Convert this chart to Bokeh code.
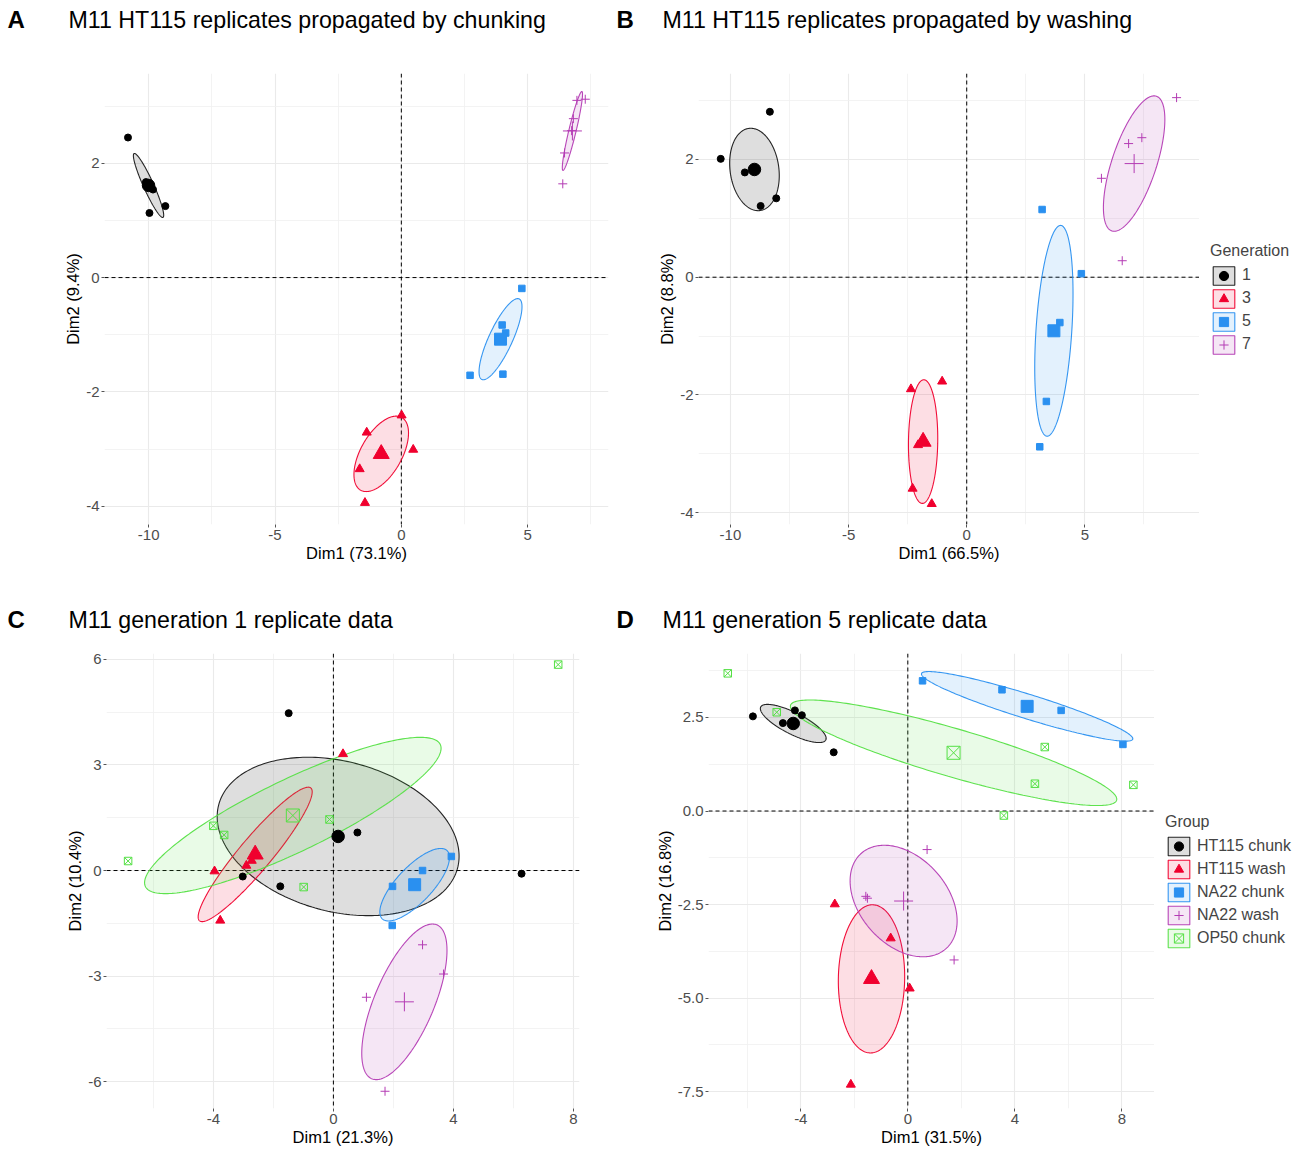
import numpy as np
from bokeh.plotting import figure
from bokeh.models import FixedTicker, Span, Label, Legend, LegendItem, PrintfTickFormatter, Range1d
from bokeh.layouts import row, column
from bokeh.embed import file_html
from bokeh.resources import INLINE

# ---------------- data: panel A (Generation, chunking) ----------------
A_GROUPS = ["1", "3", "5", "7"]
A1_X = [-10.82, -9.97, -9.34, -10.11, -9.97, -9.83]
A1_Y = [2.45, 1.13, 1.25, 1.67, 1.63, 1.54]
A3_X = [0.01, -1.37, 0.47, -1.65, -1.44]
A3_Y = [-2.41, -2.71, -3.01, -3.35, -3.94]
A5_X = [4.77, 3.99, 4.13, 2.72, 4.02]
A5_Y = [-0.19, -0.83, -0.97, -1.71, -1.69]
A7_X = [7.28, 6.95, 6.81, 6.74, 6.46, 6.39]
A7_Y = [3.12, 3.10, 2.78, 2.57, 2.18, 1.64]
A_ELL_HX = [0.60, 1.08, 0.85, 0.40]
A_ELL_HY = [0.56, 0.66, 0.71, 0.69]
A_ELL_RHO = [-0.93, 0.55, 0.80, 0.93]

# ---------------- data: panel B (Generation, washing) ----------------
B_GROUPS = ["1", "3", "5", "7"]
B1_X = [-8.33, -10.41, -9.39, -8.06, -8.72]
B1_Y = [2.81, 2.01, 1.78, 1.34, 1.21]
B3_X = [-1.04, -2.36, -2.29, -1.48, -2.06]
B3_Y = [-1.77, -1.90, -3.59, -3.85, -2.85]
B5_X = [3.19, 4.85, 3.94, 3.37, 3.09]
B5_Y = [1.15, 0.06, -0.77, -2.11, -2.88]
B7_X = [8.88, 7.41, 6.85, 5.70, 6.58]
B7_Y = [3.05, 2.37, 2.27, 1.68, 0.28]
B_ELL_HX = [1.05, 0.62, 0.81, 1.30]
B_ELL_HY = [0.70, 1.05, 1.79, 1.15]
B_ELL_RHO = [-0.15, 0.05, 0.35, 0.65]

# ---------------- data: panel C (generation 1 groups) ----------------
GROUPS = ["HT115 chunk", "HT115 wash", "NA22 chunk", "NA22 wash", "OP50 chunk"]
C_HC_X = [-1.49, 0.80, -1.77, -3.02, 6.27]
C_HC_Y = [4.47, 1.08, -0.45, -0.17, -0.09]
C_HW_X = [0.32, -3.96, -3.77, -2.90, -2.72]
C_HW_Y = [3.31, -0.02, -1.42, 0.14, 0.28]
C_NC_X = [3.93, 2.97, 1.97, 1.96]
C_NC_Y = [0.40, 0.00, -0.45, -1.56]
C_NW_X = [2.97, 3.67, 1.10, 1.72]
C_NW_Y = [-2.11, -2.94, -3.60, -6.27]
C_OC_X = [7.49, -6.84, -4.00, -3.64, -0.13, -0.99]
C_OC_Y = [5.85, 0.27, 1.27, 1.01, 1.45, -0.47]
C_ELL_HX = [4.03, 1.90, 1.16, 1.42, 4.94]
C_ELL_HY = [2.25, 1.91, 1.03, 2.21, 2.22]
C_ELL_RHO = [-0.25, 0.93, 0.75, 0.66, 0.86]

# ---------------- data: panel D (generation 5 groups) ----------------
D_HC_X = [-5.79, -4.22, -3.96, -4.67, -2.77]
D_HC_Y = [2.53, 2.69, 2.56, 2.35, 1.57]
D_HW_X = [-2.73, -0.64, 0.07, -2.13]
D_HW_Y = [-2.49, -3.40, -4.74, -7.31]
D_NC_X = [0.55, 3.52, 5.73, 8.04]
D_NC_Y = [3.48, 3.24, 2.69, 1.78]
D_NW_X = [0.72, -1.57, -1.51, 1.73]
D_NW_Y = [-1.03, -2.28, -2.33, -3.98]
D_OC_X = [-6.73, -4.90, 5.12, 4.75, 8.43, 3.59]
D_OC_Y = [3.68, 2.64, 1.71, 0.73, 0.70, -0.12]
D_ELL_HX = [1.23, 1.24, 3.95, 2.00, 6.10]
D_ELL_HY = [0.51, 1.98, 0.93, 1.49, 1.41]
D_ELL_RHO = [-0.78, 0.03, -0.93, -0.36, -0.88]

# ---------------- axes: ticks and labels ----------------
A_XTICKS = [-10, -5, 0, 5]; A_XMINOR = [-7.5, -2.5, 2.5, 7.5]
A_YTICKS = [-4, -2, 0, 2]; A_YMINOR = [-3, -1, 1, 3]
C_XTICKS = [-4, 0, 4, 8]; C_XMINOR = [-6, -2, 2, 6]
C_YTICKS = [-6, -3, 0, 3, 6]; C_YMINOR = [-4.5, -1.5, 1.5, 4.5]
D_YTICKS = [-7.5, -5.0, -2.5, 0.0, 2.5]; D_YMINOR = [-6.25, -3.75, -1.25, 1.25, 3.75]

TITLES = ["M11 HT115 replicates propagated by chunking",
          "M11 HT115 replicates propagated by washing",
          "M11 generation 1 replicate data",
          "M11 generation 5 replicate data"]
LETTERS = ["A", "B", "C", "D"]
XLABELS = ["Dim1 (73.1%)", "Dim1 (66.5%)", "Dim1 (21.3%)", "Dim1 (31.5%)"]
YLABELS = ["Dim2 (9.4%)", "Dim2 (8.8%)", "Dim2 (10.4%)", "Dim2 (16.8%)"]

# ---------------- styles ----------------
FONT = "Liberation Sans"
COLORS = ["#000000", "#F0002E", "#2A90F0", "#B43CB4", "#55E045"]
MARKERS = ["circle", "triangle", "square", "cross", "square_x"]
SMALL = {"circle": 7, "triangle": 9, "square": 6.5, "cross": 9, "square_x": 7.5}
BIG = {"circle": 12.5, "triangle": 16, "square": 12, "cross": 19, "square_x": 13}


def ellipse_xy(cx, cy, hx, hy, rho, n=240):
    t = np.linspace(0, 2 * np.pi, n)
    d = np.arccos(rho)
    return cx + hx * np.cos(t), cy + hy * np.cos(t - d)


def group_shapes(xs, ys, hx, hy, rho):
    out = []
    for k in range(len(xs)):
        cx, cy = float(np.mean(xs[k])), float(np.mean(ys[k]))
        ex, ey = ellipse_xy(cx, cy, hx[k], hy[k], rho[k])
        out.append((cx, cy, ex, ey))
    return out


def draw_ellipse(p, k, shape):
    cx, cy, ex, ey = shape
    col = COLORS[k]
    return p.patch(ex, ey, fill_color=col, fill_alpha=0.13, line_color=col,
                   line_width=1.1, line_alpha=0.85 if k == 0 else 0.95)


def draw_mean(p, k, shape):
    col, mk = COLORS[k], MARKERS[k]
    filled = mk in ("circle", "triangle", "square")
    return p.scatter([shape[0]], [shape[1]], marker=mk, size=BIG[mk], line_color=col,
                     fill_color=col if filled else None, line_width=1)


def make_panel(width, height, borders, xr, yr, xt, xm, yt, ym, idx, xs, ys,
               hx, hy, rho, yfmt="%d"):
    bl, br, bt, bb = borders
    p = figure(width=width, height=height, x_range=xr, y_range=yr,
               output_backend="svg", toolbar_location=None, tools="",
               min_border_left=bl, min_border_right=br, min_border_top=bt,
               min_border_bottom=bb)
    p.outline_line_color = None
    p.background_fill_color = "white"
    p.border_fill_color = "white"
    xtick = FixedTicker(ticks=xt, minor_ticks=xm)
    ytick = FixedTicker(ticks=yt, minor_ticks=ym)
    p.xaxis.ticker = xtick
    p.yaxis.ticker = ytick
    p.xgrid.ticker = xtick
    p.ygrid.ticker = ytick
    p.xaxis.formatter = PrintfTickFormatter(format="%d")
    p.yaxis.formatter = PrintfTickFormatter(format=yfmt)
    for g in (p.xgrid[0], p.ygrid[0]):
        g.grid_line_color = "#EAEAEA"
        g.grid_line_width = 1.1
        g.minor_grid_line_color = "#F0F0F0"
        g.minor_grid_line_width = 0.8
    for ax in (p.xaxis[0], p.yaxis[0]):
        ax.axis_line_color = None
        ax.major_tick_line_color = "#555555"
        ax.major_tick_out = 3
        ax.major_tick_in = 0
        ax.minor_tick_line_color = None
        ax.major_label_text_font = FONT
        ax.major_label_text_font_size = "15px"
        ax.major_label_text_color = "#4D4D4D"
        ax.major_label_standoff = 1
        ax.axis_label_text_font = FONT
        ax.axis_label_text_font_size = "16.5px"
        ax.axis_label_text_font_style = "normal"
        ax.axis_label_text_color = "black"
        ax.axis_label_standoff = 1
    p.xaxis.axis_label = XLABELS[idx]
    p.yaxis.axis_label = YLABELS[idx]

    p.add_layout(Span(location=0, dimension="width", line_color="black",
                      line_dash="4 3", line_width=1, level="underlay"))
    p.add_layout(Span(location=0, dimension="height", line_color="black",
                      line_dash="4 3", line_width=1, level="underlay"))

    shapes = group_shapes(xs, ys, hx, hy, rho)
    for k, sh in enumerate(shapes):
        draw_ellipse(p, k, sh)
    for k in range(len(xs)):
        col, mk = COLORS[k], MARKERS[k]
        filled = mk in ("circle", "triangle", "square")
        p.scatter(xs[k], ys[k], marker=mk, size=SMALL[mk], line_color=col,
                  fill_color=col if filled else None, line_width=1)
    for k, sh in enumerate(shapes):
        draw_mean(p, k, sh)
    return p


def make_legend_fig(width, height, title, groups, xs, ys, hx, hy, rho):
    # same group ellipses / means, kept outside this strip's view;
    # only the legend keys of this strip are seen
    lf = figure(width=width, height=height, x_range=(-100, -99), y_range=(-100, -99),
                output_backend="svg", toolbar_location=None, tools="",
                x_axis_type=None, y_axis_type=None, min_border=0,
                min_border_left=0, min_border_right=0, min_border_top=0, min_border_bottom=0)
    lf.outline_line_color = None
    lf.grid.visible = False
    shapes = group_shapes(xs, ys, hx, hy, rho)
    items = []
    for k, g in enumerate(groups):
        pr = draw_ellipse(lf, k, shapes[k])
        mr = draw_mean(lf, k, shapes[k])
        items.append(LegendItem(label=g, renderers=[pr, mr]))
    leg = Legend(items=items, title=title, location="center_left",
                 glyph_width=27, glyph_height=23, spacing=0, padding=10,
                 margin=11, label_standoff=5, border_line_color=None,
                 background_fill_alpha=0)
    leg.title_text_font = FONT
    leg.title_text_font_size = "16px"
    leg.title_text_font_style = "normal"
    leg.title_standoff = 4
    leg.label_text_font = FONT
    leg.label_text_font_size = "16px"
    lf.add_layout(leg)
    return lf


def make_header(height, mid, entries):
    h = figure(width=1304, height=height, x_range=Range1d(0, 1304),
               y_range=Range1d(height, 0), output_backend="svg",
               toolbar_location=None, tools="", x_axis_type=None, y_axis_type=None,
               min_border=0, min_border_left=0, min_border_right=0,
               min_border_top=0, min_border_bottom=0)
    h.outline_line_color = None
    h.grid.visible = False
    for (lx, tx, idx) in entries:
        h.add_layout(Label(x=lx, y=mid, text=LETTERS[idx], text_font=FONT,
                           text_font_size="24px", text_font_style="bold",
                           text_color="black",
                           text_baseline="middle", text_align="left"))
        h.add_layout(Label(x=tx, y=mid, text=TITLES[idx], text_font=FONT,
                           text_font_size="23.2px", text_font_style="normal",
                           text_color="black",
                           text_baseline="middle", text_align="left"))
    return h


head1 = make_header(45, 19, [(7, 68, 0), (616, 662, 1)])

pA = make_panel(640, 535, (104, 32, 28, 56), (-11.75, 8.2), (-4.32, 3.57),
                A_XTICKS, A_XMINOR, A_YTICKS, A_YMINOR, 0,
                [A1_X, A3_X, A5_X, A7_X], [A1_Y, A3_Y, A5_Y, A7_Y],
                A_ELL_HX, A_ELL_HY, A_ELL_RHO)

pB = make_panel(559, 535, (58, 0, 28, 56), (-11.35, 9.85), (-4.2, 3.46),
                A_XTICKS, A_XMINOR, A_YTICKS, A_YMINOR, 1,
                [B1_X, B3_X, B5_X, B7_X], [B1_Y, B3_Y, B5_Y, B7_Y],
                B_ELL_HX, B_ELL_HY, B_ELL_RHO)

lgB = make_legend_fig(105, 535, "Generation", B_GROUPS,
                      [B1_X, B3_X, B5_X, B7_X], [B1_Y, B3_Y, B5_Y, B7_Y],
                      B_ELL_HX, B_ELL_HY, B_ELL_RHO)

head2 = make_header(60, 39, [(7, 68, 2), (616, 662, 3)])

pC = make_panel(640, 511, (106, 61, 13, 43), (-7.56, 8.2), (-6.76, 6.165),
                C_XTICKS, C_XMINOR, C_YTICKS, C_YMINOR, 2,
                [C_HC_X, C_HW_X, C_NC_X, C_NW_X, C_OC_X],
                [C_HC_Y, C_HW_Y, C_NC_Y, C_NW_Y, C_OC_Y],
                C_ELL_HX, C_ELL_HY, C_ELL_RHO)

pD = make_panel(514, 511, (68, 0, 13, 43), (-7.45, 9.22), (-7.95, 4.21),
                C_XTICKS, C_XMINOR, D_YTICKS, D_YMINOR, 3,
                [D_HC_X, D_HW_X, D_NC_X, D_NW_X, D_OC_X],
                [D_HC_Y, D_HW_Y, D_NC_Y, D_NW_Y, D_OC_Y],
                D_ELL_HX, D_ELL_HY, D_ELL_RHO, yfmt="%.1f")

lgD = make_legend_fig(150, 511, "Group", GROUPS,
                      [D_HC_X, D_HW_X, D_NC_X, D_NW_X, D_OC_X],
                      [D_HC_Y, D_HW_Y, D_NC_Y, D_NW_Y, D_OC_Y],
                      D_ELL_HX, D_ELL_HY, D_ELL_RHO)

layout = column(head1, row(pA, pB, lgB), head2, row(pC, pD, lgD))
open("out.html", "w").write(file_html(layout, INLINE))
